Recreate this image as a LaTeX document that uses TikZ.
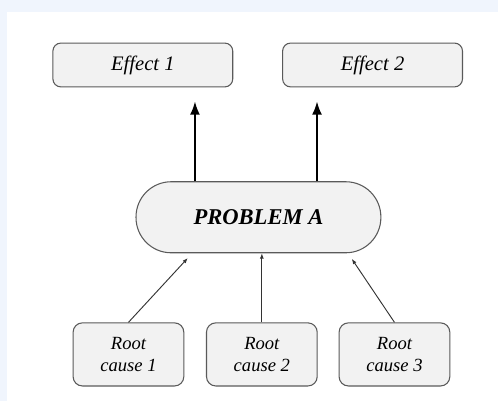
\documentclass[tikz,border=0pt]{standalone}
\usepackage{fontspec}
\setmainfont{Liberation Serif}
\usepackage{tikz}
\usetikzlibrary{arrows.meta,positioning,calc}
\definecolor{skypale}{RGB}{240,245,253}
\definecolor{boxfill}{RGB}{242,242,242}
\definecolor{boxline}{RGB}{90,90,90}

\begin{document}
\begin{tikzpicture}[>=Latex,every node/.style={align=center,font=\itshape},
  effectbox/.style={draw=boxline,line width=0.8pt,rounded corners=6pt,fill=boxfill,minimum width=4.76cm,minimum height=1.16cm,font=\fontsize{15.5}{18}\selectfont\itshape},
  causebox/.style={draw=boxline,line width=0.8pt,rounded corners=7pt,fill=boxfill,minimum width=2.93cm,minimum height=1.67cm,font=\fontsize{14}{17}\selectfont\itshape},
  bigarrow/.style={-{Latex[length=10pt,width=7.5pt]},line width=1.4pt},
  smallarrow/.style={-{Latex[length=4pt,width=3pt]},line width=0.7pt,black!80}]
  % frame
  \fill[skypale] (0,0) rectangle (13.18,10.61);
  \fill[white] (0.185,0) rectangle (13.18,10.29);
  % effects
  \node[effectbox] (eff1) at (3.78,8.89) {Effect 1};
  \node[effectbox] (eff2) at (9.86,8.89) {Effect 2};
  % problem
  \node[draw=boxline,line width=0.8pt,fill=boxfill,rounded corners=0.93cm,minimum width=6.48cm,minimum height=1.88cm,font=\fontsize{17}{20}\selectfont\bfseries\itshape] (prob) at (6.84,4.86) {PROBLEM A};
  % causes
  \node[causebox] (cause1) at (3.40,1.23) {Root\\cause 1};
  \node[causebox] (cause2) at (6.93,1.23) {Root\\cause 2};
  \node[causebox] (cause3) at (10.44,1.23) {Root\\cause 3};
  % arrows
  \coordinate (up1) at (5.16,0);
  \coordinate (up2) at (8.39,0);
  \draw[bigarrow,shorten >=0.37cm] (up1 |- prob.north) -- (up1 |- eff1.south);
  \draw[bigarrow,shorten >=0.37cm] (up2 |- prob.north) -- (up2 |- eff2.south);
  \coordinate (tip1) at (4.97,3.78);
  \coordinate (tip3) at (9.31,3.76);
  \draw[smallarrow] (cause1.north) -- (tip1);
  \draw[smallarrow] (cause2.north) -- (cause2.north |- prob.south);
  \draw[smallarrow] (cause3.north) -- (tip3);
\end{tikzpicture}
\end{document}
